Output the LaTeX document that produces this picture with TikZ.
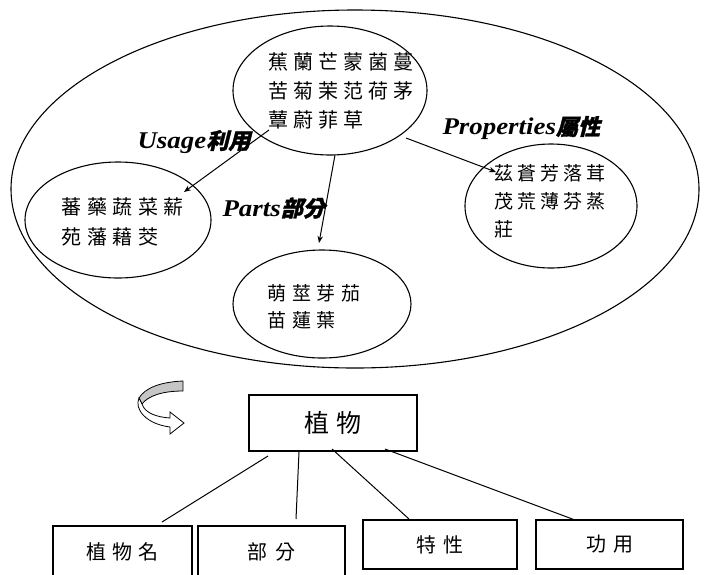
\documentclass[tikz,border=0pt]{standalone}
\usepackage{fontspec}
\usepackage{graphicx}
\setmainfont{Liberation Serif}
\newfontfamily\cjk{Noto Sans CJK TC}
\newfontfamily\cjkbi[FakeSlant=0.25,FakeBold=1.5]{Noto Sans CJK TC}
\usetikzlibrary{shapes.geometric,arrows.meta}
\newlength\chsp
\def\spaced#1{\spacedA#1\relax}
\def\spacedA#1{#1\spacedB}
\def\spacedB#1{\ifx#1\relax\else\hspace{\chsp}#1\expandafter\spacedB\fi}
\newcommand\latlbl[1]{\scalebox{1.12}[1]{#1}}
\begin{document}
\begin{tikzpicture}[x=1pt,y=-1pt,line width=1.1pt,
  ell/.style={draw,ellipse,inner sep=0pt},
  cjktext/.style={align=left,inner sep=0pt,anchor=west},
  conn/.style={-{Stealth[length=7pt,width=5.5pt]},line width=1pt},
  boxnode/.style={draw,rectangle,inner sep=0pt,line width=1.1pt},
  link/.style={line width=1pt},
  lbl/.style={anchor=west,inner sep=0pt,font=\bfseries\itshape\fontsize{24}{24}\selectfont}]
\useasboundingbox (0,0) rectangle (704,574);
\clip (0,0) rectangle (704,574);
% ellipses
\node[ell,minimum width=688pt,minimum height=358pt] (big) at (355,189) {};
\node[ell,minimum width=194pt,minimum height=129pt] (cen) at (330,90.5) {};
\node[ell,minimum width=186pt,minimum height=116pt] (lft) at (118,220) {};
\node[ell,minimum width=172pt,minimum height=124pt] (rgt) at (551,206) {};
\node[ell,minimum width=178pt,minimum height=108pt] (bot) at (322,304) {};
% texts
\node[cjktext,font={\cjk\fontsize{20}{29}\selectfont\setlength\chsp{5pt}}] (cent) at (268,91)
  {\spaced{蕉蘭芒蒙菌蔓}\\\spaced{苦菊茉范荷茅}\\\spaced{蕈蔚菲草}};
\node[cjktext,font={\cjk\fontsize{20}{30}\selectfont\setlength\chsp{5.5pt}}] (lftt) at (61,222)
  {\spaced{蕃藥蔬菜薪}\\\spaced{苑藩藉茭}};
\node[cjktext,font={\cjk\fontsize{19}{28}\selectfont\setlength\chsp{4pt}}] (rgtt) at (494,201)
  {\spaced{茲蒼芳落茸}\\\spaced{茂荒薄芬蒸}\\\spaced{莊}};
\node[cjktext,font={\cjk\fontsize{19}{27}\selectfont\setlength\chsp{5.5pt}}] (bott) at (267,306.5)
  {\spaced{萌莖芽茄}\\\spaced{苗蓮葉}};
% labels
\node[lbl] (lu) at (137,142) {\latlbl{Usage}{\cjkbi\fontsize{22}{22}\selectfont 利用}};
\node[lbl] (lp) at (222,208) {\latlbl{Parts}{\cjkbi\fontsize{22}{22}\selectfont 部分}};
\node[lbl] (lr) at (442,128) {\latlbl{Properties}{\cjkbi\fontsize{22}{22}\selectfont 屬性}};
% arrows
\coordinate (u1) at (269,130); \coordinate (u2) at (184,192);
\coordinate (p1) at (335,155); \coordinate (p2) at (319,243);
\coordinate (r1) at (406,138); \coordinate (r2) at (496,172);
\draw[conn] (u1) -- (u2);
\draw[conn] (p1) -- (p2);
\draw[conn] (r1) -- (r2);
% curved arrow icon
\filldraw[fill=gray!45,line width=0.8pt] (183,381) .. controls (160,382) and (145,388) .. (139,398)
  -- (142,404) .. controls (148,396) and (162,391) .. (183,391) -- cycle;
\filldraw[fill=white,line width=0.8pt] (139,398) .. controls (134,409) and (146,424) .. (170,427)
  -- (170,434) -- (184,423) -- (170,412) -- (170,418) .. controls (156,417) and (145,413) .. (142,404) -- cycle;
% boxes
\node[boxnode,minimum width=168pt,minimum height=56pt,font={\cjk\fontsize{25}{25}\selectfont\setlength\chsp{7pt}}] (plant) at (333,423) {\spaced{植物}};
\node[boxnode,minimum width=139pt,minimum height=52pt,font={\cjk\fontsize{20}{20}\selectfont\setlength\chsp{6pt}}] (b1) at (122.5,552) {\spaced{植物名}};
\node[boxnode,minimum width=147pt,minimum height=52pt,font={\cjk\fontsize{20}{20}\selectfont\setlength\chsp{8pt}}] (b2) at (271.5,552) {\spaced{部分}};
\node[boxnode,minimum width=154pt,minimum height=49pt,font={\cjk\fontsize{20}{20}\selectfont\setlength\chsp{7pt}}] (b3) at (440,544.5) {\spaced{特性}};
\node[boxnode,minimum width=147pt,minimum height=49pt,font={\cjk\fontsize{20}{20}\selectfont\setlength\chsp{7pt}}] (b4) at (609.5,544.5) {\spaced{功用}};
\coordinate (l1a) at (268,456); \coordinate (l1b) at (162,522);
\coordinate (l2a) at (299,452); \coordinate (l2b) at (296,519);
\coordinate (l3a) at (332,449); \coordinate (l3b) at (409,519);
\coordinate (l4a) at (385,449); \coordinate (l4b) at (575,520);
\draw[link] (l1a) -- (l1b);
\draw[link] (l2a) -- (l2b);
\draw[link] (l3a) -- (l3b);
\draw[link] (l4a) -- (l4b);
\end{tikzpicture}
\end{document}
